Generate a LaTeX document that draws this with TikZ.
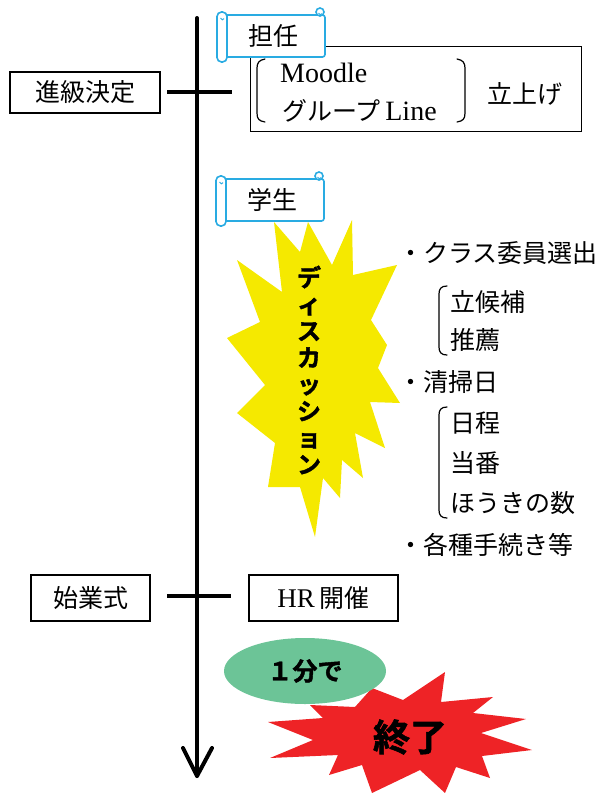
\documentclass[tikz,border=0pt]{standalone}
\usepackage{fontspec}
\setmainfont{Liberation Serif}
\newfontfamily\jp{Noto Sans CJK JP}
\newfontfamily\jpb{Noto Sans CJK JP Bold}[FakeBold=1.6]
\usetikzlibrary{shapes.geometric}
\definecolor{scrollblue}{HTML}{29ABE2}
\definecolor{boomyellow}{HTML}{F5E900}
\definecolor{boomred}{HTML}{EE2326}
\definecolor{pillgreen}{HTML}{6CC497}
\tikzset{
  box/.style={draw=black, line width=1.3pt, fill=white, inner sep=0pt, font=\jp\fontsize{25}{28}\selectfont},
  axisline/.style={line width=4pt, line cap=round, line join=round},
  tickline/.style={line width=4.5pt},
  scrollline/.style={draw=scrollblue, line width=1.6pt, fill=white},
  listtext/.style={anchor=west, inner sep=0pt, font=\jp\fontsize{25}{28}\selectfont},
  latintext/.style={inner sep=0pt, font=\fontsize{28}{30}\selectfont},
  brk/.style={line width=1.2pt, line cap=round},
  scroll/.pic={
    \draw[scrollline, rounded corners=2.5pt] (0,0) rectangle (100,42);
    \draw[scrollline] (95,-3) circle (4);
    \draw[draw=scrollblue, line width=1pt] (93.5,-2) arc (180:20:1.8);
    \draw[scrollline, rounded corners=4.5pt] (-8,-3) rectangle (2,47);
    \draw[draw=scrollblue, line width=1pt] (-4.5,3) arc (180:20:1.8);
    \node[inner sep=0pt, font=\jp\fontsize{25}{28}\selectfont] (-label) at (48,21) {#1};
  },
}
\begin{document}
\begin{tikzpicture}[x=1pt, y=-1pt]
\useasboundingbox (0,0) rectangle (603,793);

% main time axis
\coordinate (axtop) at (197,18);
\coordinate (axbot) at (197,776);
\coordinate (headL) at (183,748);
\coordinate (headR) at (212,748);
\draw[axisline] (axtop) -- (axbot);
\draw[axisline] (headL) -- (axbot) -- (headR);

% ticks
\coordinate (t1l) at (167,92);
\coordinate (t1r) at (232,92);
\coordinate (t2l) at (167,596);
\coordinate (t2r) at (231,596);
\draw[tickline] (t1l) -- (t1r);
\draw[tickline] (t2l) -- (t2r);

% left boxes
\node[box, minimum width=150, minimum height=41] (shinkyu) at (85,92.5) {進級決定};
\node[box, minimum width=119, minimum height=46] (shigyo) at (90.5,598) {始業式};
\node[box, minimum width=149, minimum height=46, font=\fontsize{27}{30}\selectfont] (hr) at (323.5,598) {HR\,{\jp\fontsize{25}{28}\selectfont 開催}};

% big box top
\node[draw, line width=1.3pt, minimum width=331, minimum height=85, anchor=north west, inner sep=0pt] (bigbox) at (250,46) {};
\draw[brk] (265,59) .. controls (259,60) and (257,63) .. (257,68) -- (257,113) .. controls (257,119) and (259,121) .. (265,122);
\draw[brk] (457,59) .. controls (463,60) and (465,63) .. (465,68) -- (465,113) .. controls (465,119) and (463,121) .. (457,122);
\node[latintext, anchor=base west] (moodle) at (280,82) {Moodle};
\node[latintext, anchor=base west] (line) at (282,120) {{\jp\fontsize{25}{28}\selectfont グループ}\,Line};
\node[listtext] (tachiage) at (487,94) {立上げ};

% scrolls
\pic (tannin) at (225,15) {scroll=担任};
\pic (gakusei) at (224,179) {scroll=学生};

% yellow explosion
\fill[boomyellow] (274,222) -- (300,252) -- (308,222) -- (332,265) -- (352,220) -- (353,275) -- (397,265) -- (371,320) -- (387,345) -- (378,368) -- (400,403) -- (370,402) -- (385,448) -- (355,433) -- (363,478) -- (342,460) -- (340,498) -- (323,478) -- (315,537) -- (300,487) -- (268,487) -- (275,443) -- (237,413) -- (265,385) -- (227,338) -- (260,322) -- (237,260) -- (282,292) -- cycle;
\node[align=center, inner sep=0pt, font=\jpb\fontsize{24}{26.7}\selectfont] (disc) at (309,370) {デ\\ィ\\ス\\カ\\ッ\\シ\\ョ\\ン};

% list
\node[listtext] (iin) at (398,253) {・クラス委員選出};
\node[listtext] (rikko) at (450,302) {立候補};
\node[listtext] (suisen) at (450,340) {推薦};
\node[listtext] (seiso) at (398,382) {・清掃日};
\node[listtext] (nittei) at (450,423) {日程};
\node[listtext] (toban) at (450,463) {当番};
\node[listtext] (houki) at (450,503) {ほうきの数};
\node[listtext] (tetsu) at (398,545) {・各種手続き等};
\draw[brk] (447,286) .. controls (441,286) and (439,289) .. (439,294) -- (439,347) .. controls (439,352) and (441,355) .. (447,355);
\draw[brk] (447,407) .. controls (441,407) and (439,410) .. (439,415) -- (439,510) .. controls (439,515) and (441,518) .. (447,518);

% red explosion
\fill[boomred] (445,672) -- (441,702) -- (493,697) -- (473,713) -- (526,719) -- (481,733) -- (532,750) -- (482,756) -- (490,778) -- (456,767) -- (445,793) -- (420,770) -- (372,793) -- (362,765) -- (329,775) -- (338,755) -- (270,758) -- (313,740) -- (268,722) -- (323,718) -- (310,705) -- (355,707) -- (372,688) -- (403,700) -- cycle;
\node[inner sep=0pt, font=\jpb\fontsize{37}{40}\selectfont] (owari) at (410,737) {終了};

% green ellipse
\node[ellipse, fill=pillgreen, minimum width=162, minimum height=66, inner sep=0pt, font=\jpb\fontsize{25}{28}\selectfont] (ippun) at (305,671) {１分で};
\end{tikzpicture}
\end{document}
